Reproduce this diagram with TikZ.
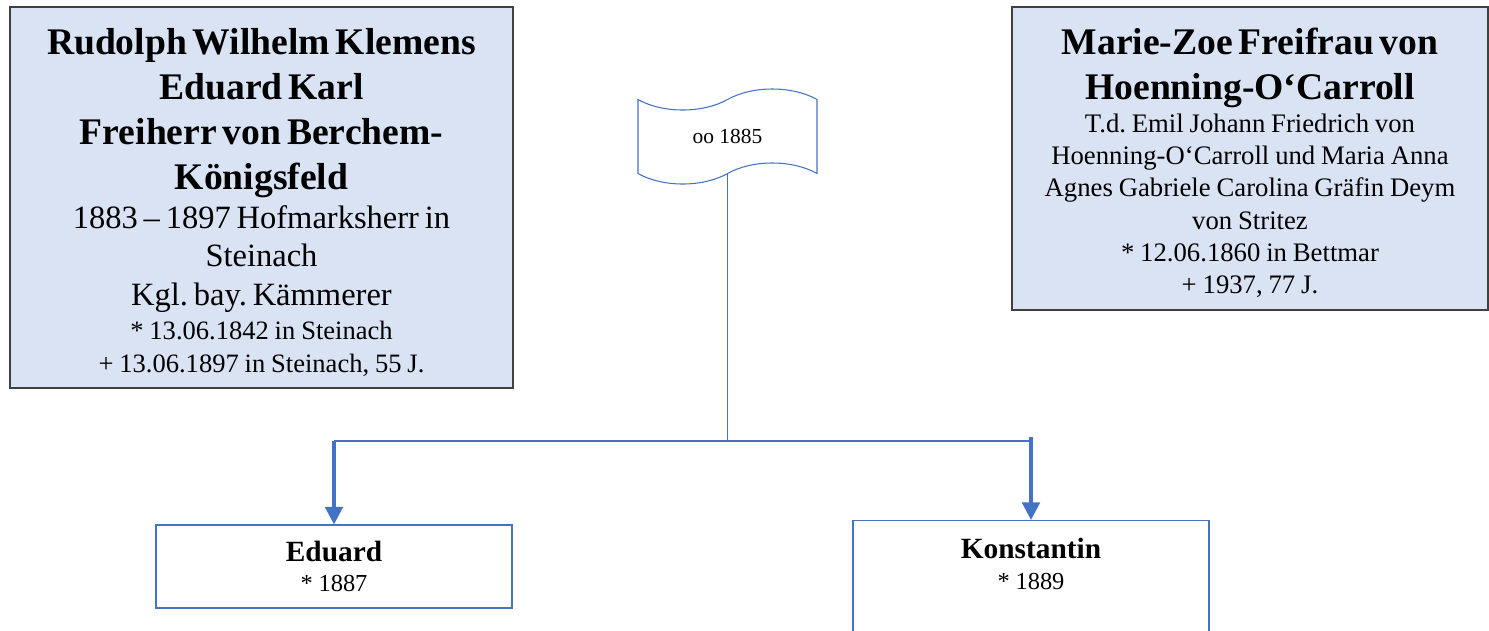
\documentclass[tikz,border=0pt]{standalone}
\usepackage{fontspec}
\setmainfont{Liberation Serif}
\frenchspacing
\usetikzlibrary{positioning,shapes.symbols,arrows.meta}
\definecolor{parentfill}{HTML}{DAE3F3}
\definecolor{parentline}{HTML}{404040}
\definecolor{linkblue}{HTML}{4472C4}
\newcommand{\namesize}{\fontsize{21.4}{25.6}\selectfont\bfseries}
\newcommand{\infosize}{\fontsize{18.5}{22}\selectfont}
\newcommand{\datesize}{\fontsize{15.1}{19.2}\selectfont}
\newcommand{\notesize}{\fontsize{15.2}{18.4}\selectfont}
\newcommand{\kidname}{\fontsize{16.7}{19}\selectfont\bfseries}
\newcommand{\kiddate}{\fontsize{13.9}{17.5}\selectfont}

\begin{document}
\begin{tikzpicture}[
  parent/.style={draw=parentline, fill=parentfill, line width=0.6pt, align=center, inner ysep=0pt},
  child/.style={draw=linkblue, fill=white, line width=0.6pt, align=center, text width=7cm, inner xsep=0.06cm},
  link/.style={draw=linkblue, line width=0.75pt},
  descent/.style={draw=linkblue, line width=1.8pt, -{Triangle[width=10pt,length=10pt]}}
]
\useasboundingbox (0,0) rectangle (29.78,-12.6);

\node[parent, text width=9.8cm, inner xsep=0.13cm, minimum height=7.62cm] (rudolph) at (5.23,-3.95)
  {{\namesize \rule{0pt}{20.8pt}Rudolph Wilhelm Klemens\\ Eduard Karl\\ Freiherr von Berchem-\\ Königsfeld\par}%
   {\infosize 1883 – 1897 Hofmarksherr in\\ Steinach\\ Kgl. bay. Kämmerer\par}%
   {\datesize {*} 13.06.1842 in Steinach\\ + 13.06.1897 in Steinach, 55 J.\par}};

\node[parent, text width=9.3cm, inner xsep=0.11cm, minimum height=6.06cm] (marie) at (25.0,-3.17)
  {{\namesize \rule{0pt}{20.2pt}Marie-Zoe Freifrau von\\ Hoenning-O‘Carroll\par}%
   {\notesize T.d. Emil Johann Friedrich von\\ Hoenning-O‘Carroll und Maria Anna\\ Agnes Gabriele Carolina Gräfin Deym\\ von Stritez\\ {*} 12.06.1860 in Bettmar\\ + 1937, 77 J.\par}};

\node[tape, draw=linkblue, line width=0.6pt, minimum width=3.58cm, minimum height=1.9cm,
  tape bend height=0.42cm, font=\fontsize{12.2}{14}\selectfont] (marriage) at (14.55,-2.73) {oo 1885};

\node[child, minimum height=1.66cm] (eduard) at (6.68,-11.33)
  {{\kidname Eduard\par}{\kiddate {*} 1887\par}};
\node[child, anchor=north, inner ysep=0.35cm, text depth=2cm] (konstantin) at (20.62,-10.4)
  {{\kidname Konstantin\par}{\kiddate {*} 1889\par}};

\coordinate (bar) at ([yshift=-8.82cm]marriage.south |- 0,0);
\draw[link] (marriage.south) -- (bar);
\draw[link] (eduard.north |- bar) -- (konstantin.north |- bar);
\draw[descent] (eduard.north |- bar) -- (eduard.north);
\draw[descent] ([yshift=2.3pt]konstantin.north |- bar) -- (konstantin.north);
\end{tikzpicture}
\end{document}
